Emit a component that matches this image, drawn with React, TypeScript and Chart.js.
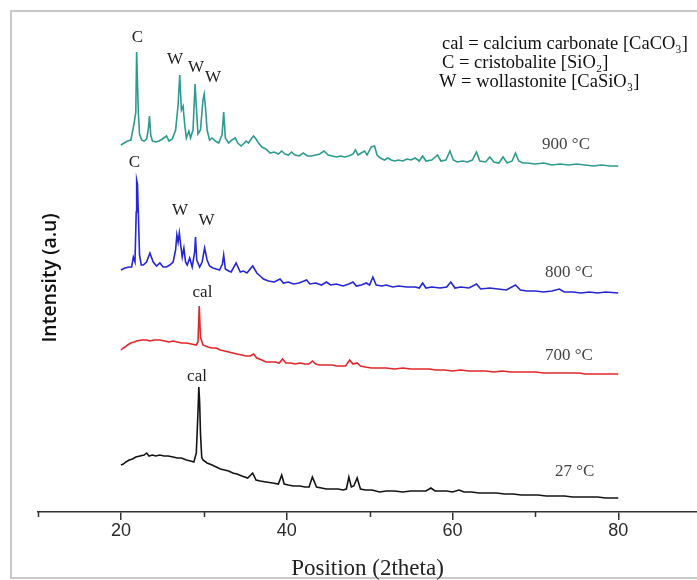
import React, { useEffect, useRef } from 'react';
import { Chart, registerables } from 'chart.js';
Chart.register(...registerables);

// XRD patterns: [2theta, intensity (a.u., stacked with offsets)]
const xrd900: [number, number][] = [[20.0,367],[20.4,369],[20.8,371],[21.2,372],[21.6,389],[21.8,400],[21.9,460],[22.0,430],[22.1,400],[22.25,378],[22.5,372],[22.8,371],[23.1,373],[23.3,382],[23.45,396],[23.6,377],[23.8,371],[24.2,370],[24.6,371],[25.0,373],[25.5,376],[25.8,371],[26.2,373],[26.6,382],[26.9,407],[27.1,437],[27.3,402],[27.5,406],[27.7,387],[27.9,374],[28.2,381],[28.4,374],[28.7,382],[28.95,428],[29.1,405],[29.3,378],[29.6,382],[29.9,412],[30.05,418],[30.2,405],[30.4,382],[30.7,372],[31.0,374],[31.4,371],[31.8,369],[32.2,377],[32.4,400],[32.6,374],[33.0,369],[33.4,372],[33.8,374],[34.1,369],[34.5,366],[34.9,369],[35.1,371],[35.4,369],[35.8,374],[36.0,376],[36.3,373],[36.6,369],[37.0,365],[37.5,363],[38.0,359],[38.5,360],[39.0,358],[39.4,361],[39.8,358],[40.2,357],[40.6,360],[41.0,357],[41.5,356],[42.0,359],[42.5,356],[43.0,356],[43.5,357],[44.0,358],[44.5,361],[45.0,357],[45.5,356],[46.0,355],[46.5,356],[47.0,355],[47.5,356],[48.0,358],[48.3,362],[48.6,357],[49.0,359],[49.4,361],[49.7,357],[50.2,365],[50.6,366],[50.9,357],[51.3,354],[51.8,352],[52.2,354],[52.6,352],[53.0,351],[53.5,352],[54.0,351],[54.5,353],[55.0,352],[55.5,354],[56.0,351],[56.4,356],[56.8,351],[57.5,352],[58.2,357],[58.6,351],[59.2,352],[59.7,361],[60.1,352],[60.6,350],[61.2,351],[61.8,350],[62.4,352],[62.9,360],[63.3,351],[64.0,350],[64.5,355],[65.0,350],[65.6,349],[66.1,355],[66.6,349],[67.2,351],[67.6,359],[68.0,351],[68.5,349],[69.0,349],[70.0,348],[71.0,349],[72.0,347],[73.0,348],[74.0,347],[75.0,348],[76.0,347],[77.0,346],[78.0,347],[79.0,346],[80.0,346]];

const xrd800: [number, number][] = [[20.0,242],[20.5,244],[21.0,245],[21.3,245],[21.5,255],[21.7,250],[21.85,300],[21.9,332],[22.0,328],[22.1,300],[22.25,257],[22.45,247],[22.7,247],[23.1,250],[23.5,259],[23.9,250],[24.3,246],[24.7,249],[25.1,245],[25.5,245],[25.9,247],[26.3,250],[26.6,262],[26.75,277],[26.9,270],[27.05,279],[27.2,268],[27.4,255],[27.6,264],[27.8,250],[28.0,247],[28.3,254],[28.6,245],[28.9,260],[29.0,275],[29.15,252],[29.5,245],[29.8,250],[30.1,264],[30.4,252],[30.7,246],[31.1,244],[31.5,243],[31.9,242],[32.25,248],[32.4,257],[32.6,243],[33.0,241],[33.3,240],[33.9,249],[34.4,240],[34.8,241],[35.2,239],[35.9,246],[36.4,239],[36.8,236],[37.2,233],[37.8,231],[38.5,230],[39.2,233],[39.6,229],[40.2,230],[40.8,228],[41.5,229],[42.4,232],[42.8,228],[43.5,229],[44.2,227],[44.8,230],[45.3,227],[46.0,228],[46.8,226],[47.5,228],[48.0,230],[48.4,226],[49.0,227],[49.6,229],[50.0,227],[50.4,235],[50.8,227],[51.5,226],[52.0,227],[52.8,225],[53.5,226],[54.5,225],[55.5,225],[56.0,224],[56.4,229],[56.8,224],[57.5,225],[58.5,224],[59.3,225],[59.8,230],[60.3,224],[61.0,225],[62.0,224],[62.9,228],[63.4,223],[64.5,224],[65.5,223],[66.5,222],[67.6,227],[68.2,222],[69.0,221],[70.0,221],[71.0,220],[72.0,221],[72.9,223],[73.5,220],[74.5,220],[75.5,219],[76.5,220],[77.5,219],[78.5,220],[80.0,219]];

const xrd700: [number, number][] = [[20.0,162],[20.3,164],[20.5,165],[20.8,167],[21.2,169],[21.6,170],[21.9,171],[22.5,172],[23.1,172],[23.5,171],[24.0,172],[24.7,172],[25.3,171],[25.8,170],[26.3,171],[26.8,170],[27.3,169],[27.9,169],[28.5,168],[29.1,167],[29.3,170],[29.45,206],[29.6,175],[29.9,167],[30.5,165],[31.0,164],[31.5,164],[32.0,162],[32.5,161],[33.0,160],[33.5,159],[34.0,158],[34.6,157],[35.1,156],[35.6,156],[36.0,158],[36.4,154],[37.0,152],[37.5,150],[38.0,150],[38.6,150],[39.1,149],[39.5,153],[39.9,149],[40.5,149],[41.0,148],[41.6,149],[42.2,148],[42.7,148],[43.1,151],[43.5,148],[44.0,147],[44.5,147],[45.0,147],[45.5,147],[46.0,146],[46.6,146],[47.1,146],[47.6,152],[48.0,148],[48.5,149],[48.9,146],[49.5,145],[50.2,144],[51.2,144],[52.0,144],[53.0,143],[54.0,144],[55.0,143],[56.0,143],[57.2,143],[58.0,142],[59.0,142],[60.0,141],[61.0,142],[62.0,141],[63.2,141],[64.0,141],[65.0,140],[66.0,141],[67.0,140],[68.0,140],[69.2,140],[70.0,140],[71.0,139],[72.0,139],[73.0,139],[74.0,139],[75.3,139],[76.0,138],[77.0,138],[78.0,138],[79.0,138],[80.0,138]];

const xrd27: [number, number][] = [[20.0,47],[20.3,48],[20.6,50],[21.0,52],[21.4,53],[21.8,55],[22.3,56],[22.8,57],[23.1,59],[23.4,56],[23.8,57],[24.2,56],[24.7,57],[25.2,56],[25.7,56],[26.3,55],[26.8,54],[27.3,54],[27.9,52],[28.4,51],[28.8,50],[29.1,59],[29.3,100],[29.4,125],[29.5,110],[29.6,79],[29.75,55],[29.9,52],[30.4,49],[31.0,47],[31.5,45],[32.0,43],[32.5,42],[33.0,41],[33.5,39],[34.0,38],[34.6,36],[35.3,34],[35.9,39],[36.3,32],[36.8,31],[37.5,30],[38.3,29],[39.0,28],[39.4,37],[39.7,28],[40.2,27],[40.8,26],[41.6,26],[42.2,25],[42.7,25],[43.1,35],[43.6,25],[44.2,24],[44.8,23],[45.5,23],[46.2,23],[46.8,22],[47.2,23],[47.5,35],[47.8,25],[48.1,26],[48.5,34],[48.9,23],[49.5,22],[50.3,22],[51.2,20],[52.0,21],[53.0,21],[54.0,20],[55.0,21],[56.0,21],[56.8,21],[57.4,24],[57.9,21],[58.5,21],[59.3,21],[60.0,20],[60.8,22],[61.4,20],[62.3,20],[63.2,19],[64.2,19],[65.3,19],[66.3,18],[67.3,18],[68.3,17],[69.3,17],[70.3,17],[71.3,16],[72.3,16],[73.5,16],[74.5,15],[75.5,15],[76.5,15],[77.5,15],[78.5,14],[80.0,14]];

const seriesNames = ['900 °C', '800 °C', '700 °C', '27 °C'];
const seriesData = [xrd900, xrd800, xrd700, xrd27];
const seriesColors = ['#2f9a8e', '#2626d6', '#e3262a', '#141414'];

// label anchor (2theta, intensity) for each temperature label
const tempLabelTheta = [73.7, 74.05, 74.05, 74.75];
const tempLabelInt = [367, 239, 156.5, 40.5];

// phase marks above peaks
const peakText = ['C', 'W', 'W', 'W', 'C', 'W', 'W', 'cal', 'cal'];
const peakTheta = [21.99, 26.52, 29.05, 31.11, 21.63, 27.12, 30.32, 29.84, 29.18];
const peakInt = [474.5, 452, 444, 434, 349, 301, 291, 219, 135];

const keyLines = ['cal = calcium carbonate [CaCO₃]', 'C = cristobalite [SiO₂]', 'W = wollastonite [CaSiO₃]'];

const majorTicks = [20, 40, 60, 80];
const minorTicks = [10, 30, 50, 70];

const SERIF = '"Liberation Serif", "DejaVu Serif", serif';

const decor = {
  id: 'decor',
  beforeDraw(chart: any) {
    const ctx = chart.ctx;
    ctx.save();
    ctx.strokeStyle = '#c9c9c9';
    ctx.lineWidth = 2;
    ctx.beginPath();
    ctx.moveTo(697, 11);
    ctx.lineTo(11, 11);
    ctx.lineTo(11, 578);
    ctx.lineTo(697, 578);
    ctx.stroke();
    ctx.restore();
  },
  afterDraw(chart: any) {
    const ctx = chart.ctx;
    const xs = chart.scales.x;
    const ys = chart.scales.y;
    const base = chart.chartArea.bottom;
    ctx.save();
    // minor ticks
    ctx.strokeStyle = '#333';
    ctx.lineWidth = 1.5;
    minorTicks.forEach((v) => {
      const px = Math.round(xs.getPixelForValue(v)) + 0.5;
      ctx.beginPath();
      ctx.moveTo(px, base);
      ctx.lineTo(px, base + 5);
      ctx.stroke();
    });
    // phase labels
    ctx.fillStyle = '#222';
    ctx.textAlign = 'center';
    ctx.textBaseline = 'middle';
    ctx.font = `17px ${SERIF}`;
    peakText.forEach((t, i) => {
      ctx.fillText(t, xs.getPixelForValue(peakTheta[i]), ys.getPixelForValue(peakInt[i]));
    });
    // temperature labels
    ctx.fillStyle = '#444';
    ctx.font = `17px ${SERIF}`;
    seriesNames.forEach((t, i) => {
      ctx.fillText(t, xs.getPixelForValue(tempLabelTheta[i]), ys.getPixelForValue(tempLabelInt[i]));
    });
    // key text
    ctx.fillStyle = '#111';
    ctx.textAlign = 'left';
    ctx.font = `18.5px ${SERIF}`;
    const keyX = [442, 442, 439];
    const keyY = [44, 63, 82];
    keyLines.forEach((t, i) => ctx.fillText(t, keyX[i], keyY[i]));
    // y title
    ctx.translate(50, 278);
    ctx.rotate(-Math.PI / 2);
    ctx.textAlign = 'center';
    ctx.fillStyle = '#111';
    ctx.font = '600 19.5px "Open Sans", sans-serif';
    ctx.fillText('Intensity (a.u)', 0, 0);
    ctx.restore();
  },
};

export default function App() {
  const ref = useRef<HTMLCanvasElement | null>(null);
  useEffect(() => {
    if (!ref.current) return;
    const chart = new Chart(ref.current, {
      type: 'line',
      data: {
        datasets: seriesData.map((d, i) => ({
          label: seriesNames[i],
          data: d.map(([x, y]) => ({ x, y })),
          borderColor: seriesColors[i],
          borderWidth: 1.6,
          pointRadius: 0,
          tension: 0,
          fill: false,
        })),
      },
      options: {
        animation: false,
        responsive: false,
        devicePixelRatio: 1,
        layout: { padding: { left: 38, right: 0, top: 10, bottom: 0 } },
        plugins: { legend: { display: false }, tooltip: { enabled: false } },
        scales: {
          x: {
            type: 'linear',
            min: 10,
            max: 89.5,
            afterBuildTicks: (s: any) => {
              s.ticks = majorTicks.map((v) => ({ value: v }));
            },
            afterFit: (s: any) => {
              s.height = 68;
            },
            grid: { drawOnChartArea: false, color: '#333', lineWidth: 1.5, tickLength: 8 },
            border: { display: true, color: '#333', width: 1.5 },
            ticks: {
              color: '#2a2a2a',
              padding: 0,
              font: { family: '"Liberation Sans", Arial, sans-serif', size: 18 },
              maxRotation: 0,
            },
            title: {
              display: true,
              text: 'Position (2theta)',
              color: '#222',
              font: { family: SERIF, size: 23, lineHeight: 1 },
              padding: { top: 0, bottom: 0 },
            },
          },
          y: { display: false, min: 0, max: 502 },
        },
      },
      plugins: [decor],
    } as any);
    return () => chart.destroy();
  }, []);
  return (
    <div style={{ position: 'absolute', left: 0, top: 0, width: 697, height: 580, background: '#fff' }}>
      <canvas ref={ref} width={697} height={580} style={{ display: 'block' }} />
    </div>
  );
}
